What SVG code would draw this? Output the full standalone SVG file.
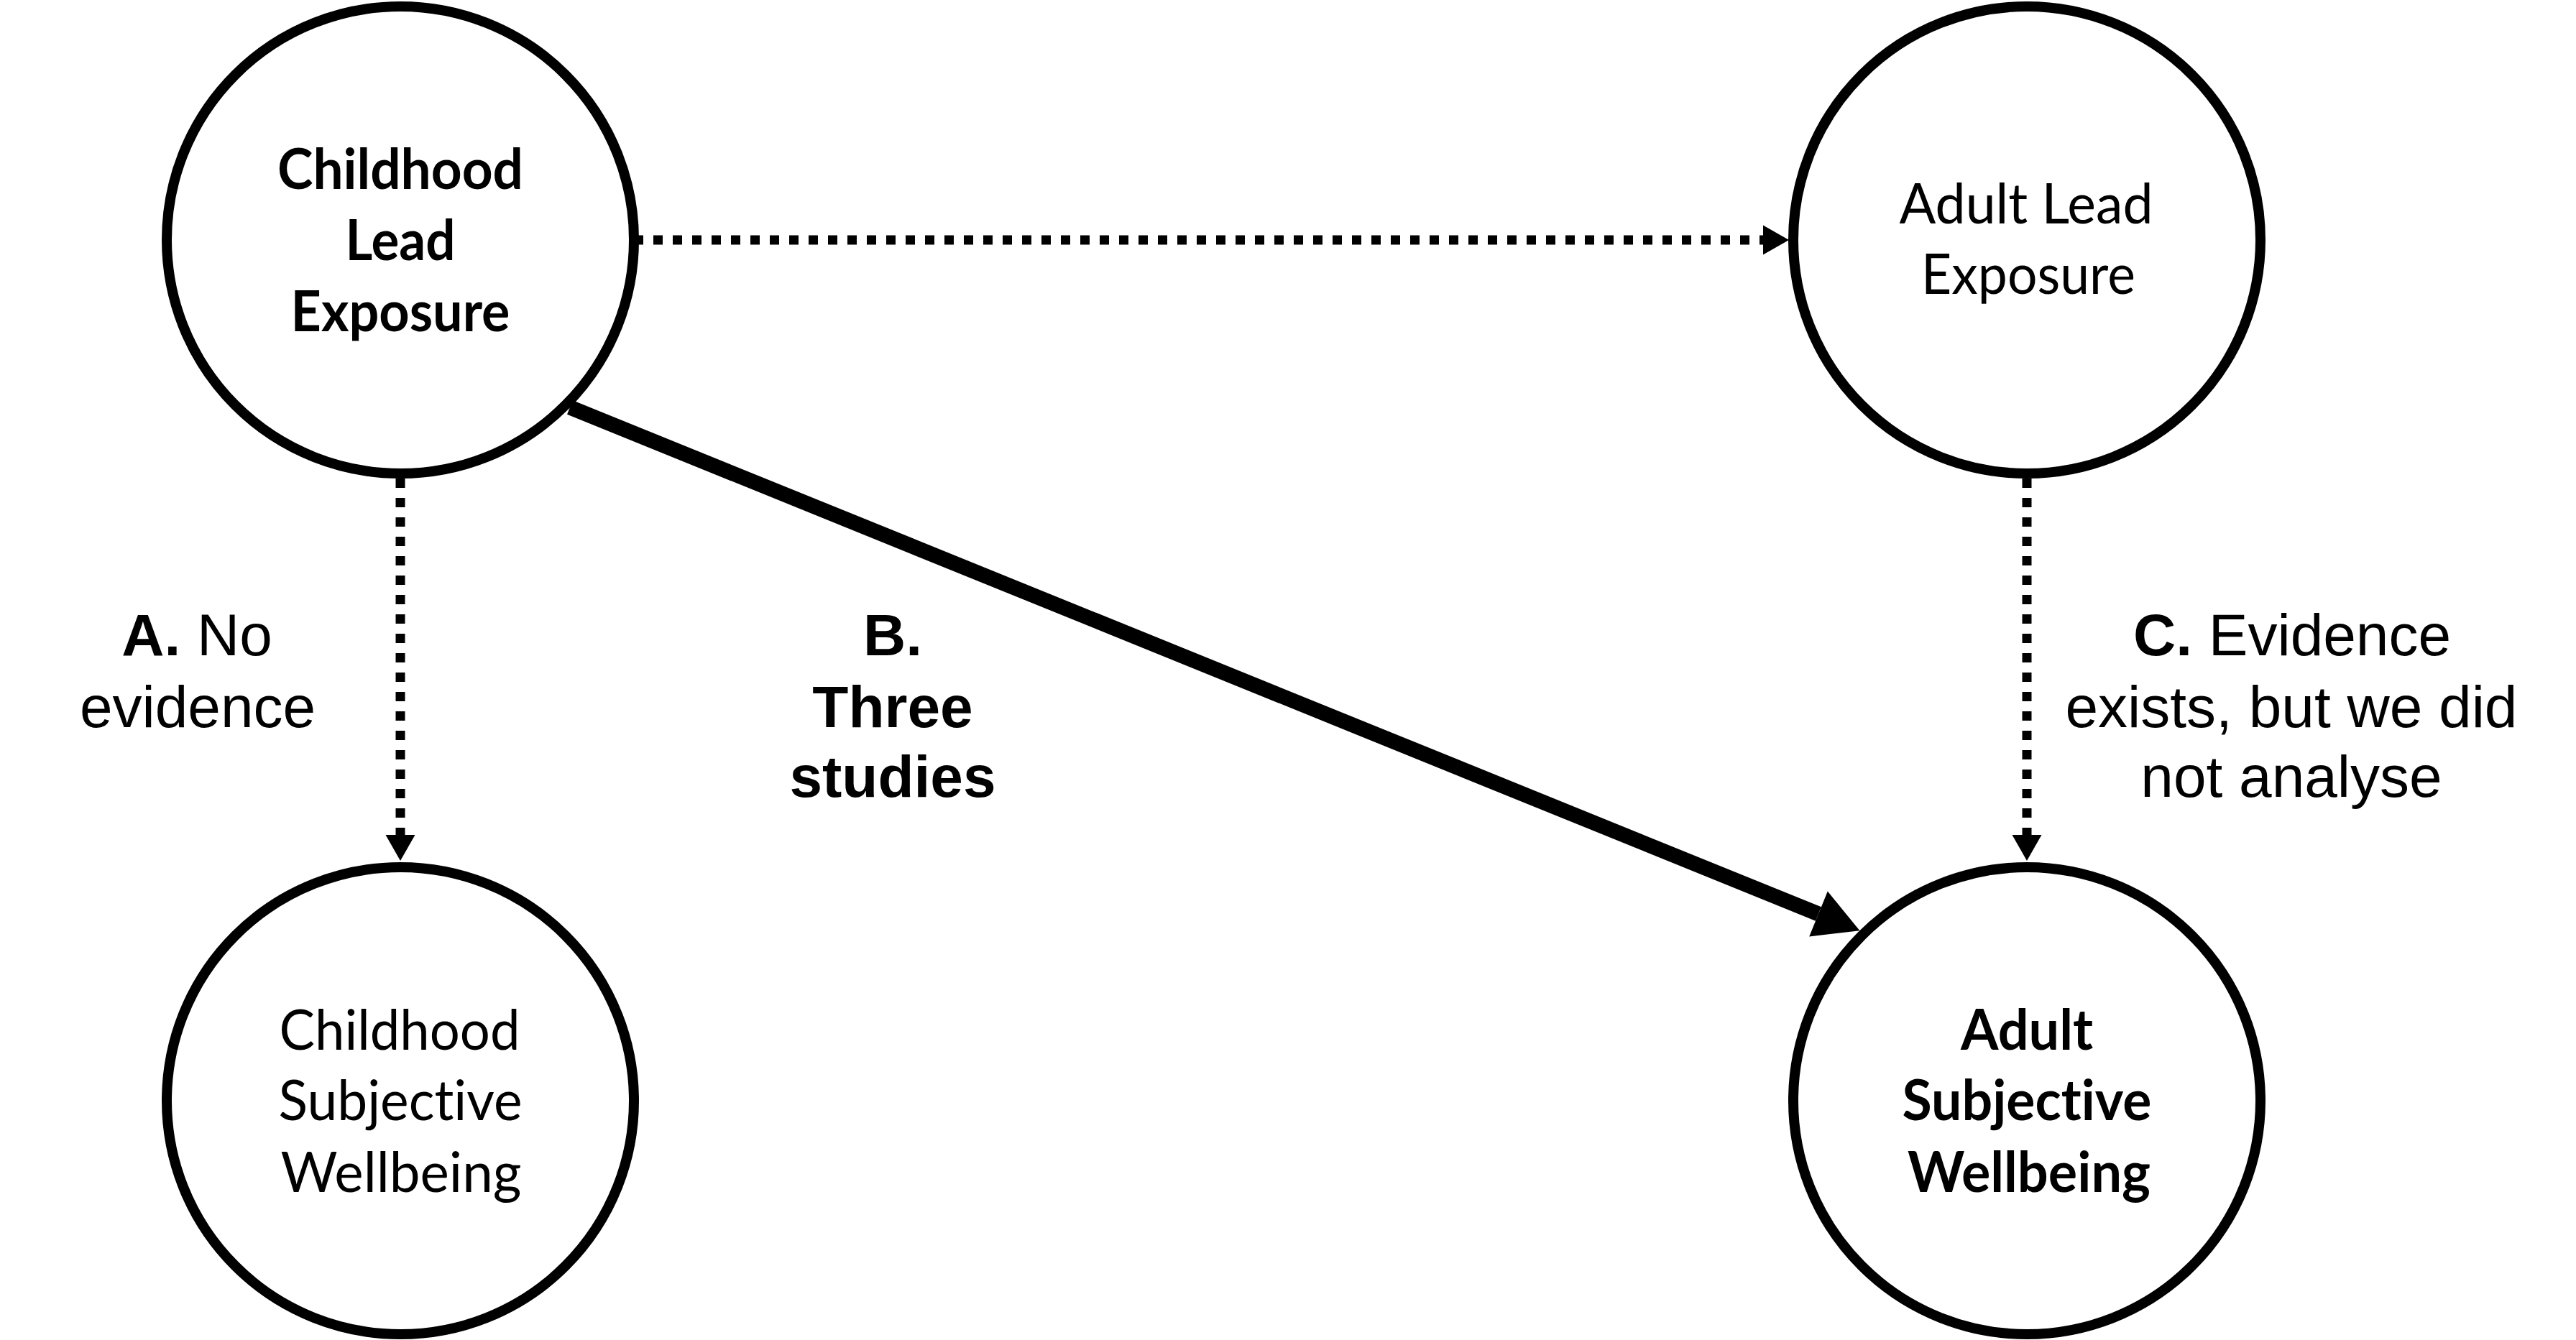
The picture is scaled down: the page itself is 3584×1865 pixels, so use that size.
<svg xmlns="http://www.w3.org/2000/svg" width="3584" height="1865" viewBox="0 0 3584 1865">
<style>
.node{fill:#fff;stroke:#000;stroke-width:14}
.nt{font-family:Lato,"Open Sans","Liberation Sans",sans-serif;font-size:78px;fill:#000;text-anchor:middle;font-variant-ligatures:none;font-feature-settings:"liga" 0,"clig" 0,"dlig" 0}
.b{font-weight:bold}
.lbl{font-family:"Liberation Sans",Arial,sans-serif;font-size:82px;fill:#000;text-anchor:middle}
.dot{fill:none;stroke:#000;stroke-width:13;stroke-dasharray:13 14}
.thick{fill:none;stroke:#000;stroke-width:21}
</style>
<defs>
<marker id="ah" markerUnits="userSpaceOnUse" markerWidth="36" markerHeight="41" refX="0" refY="20.5" orient="auto" overflow="visible">
<path d="M0,0 L36,20.5 L0,41 Z" fill="#000"/>
</marker>
<marker id="ahb" markerUnits="userSpaceOnUse" markerWidth="62" markerHeight="68" refX="0" refY="34" orient="auto" overflow="visible">
<path d="M0,0 L62,34 L0,68 Z" fill="#000"/>
</marker>
</defs>
<rect width="3584" height="1865" fill="#fff"/>
<g id="connectors">
<line class="dot" x1="882" y1="334" x2="2453" y2="334" marker-end="url(#ah)"/>
<line class="dot" x1="557" y1="666" x2="557" y2="1162" marker-end="url(#ah)"/>
<line class="dot" x1="2820" y1="666" x2="2820" y2="1162" marker-end="url(#ah)"/>
<line class="thick" x1="793" y1="567" x2="2530" y2="1272" marker-end="url(#ahb)"/>
</g>
<g id="node-childhood-lead">
<circle class="node" cx="557" cy="334" r="325"/>
<text class="nt b"><tspan x="557" y="263" textLength="342" lengthAdjust="spacingAndGlyphs">Childhood</tspan><tspan x="557" y="362" textLength="153" lengthAdjust="spacingAndGlyphs">Lead</tspan><tspan x="557" y="461" textLength="305" lengthAdjust="spacingAndGlyphs">Exposure</tspan></text>
</g>
<g id="node-adult-lead">
<circle class="node" cx="2820" cy="334" r="325"/>
<text class="nt"><tspan x="2819" y="311" textLength="353" lengthAdjust="spacingAndGlyphs">Adult Lead</tspan><tspan x="2822" y="409" textLength="298" lengthAdjust="spacingAndGlyphs">Exposure</tspan></text>
</g>
<g id="node-childhood-swb">
<circle class="node" cx="557" cy="1532" r="325"/>
<text class="nt"><tspan x="556" y="1461" textLength="335" lengthAdjust="spacingAndGlyphs">Childhood</tspan><tspan x="557" y="1559" textLength="339" lengthAdjust="spacingAndGlyphs">Subjective</tspan><tspan x="558" y="1659" textLength="335" lengthAdjust="spacingAndGlyphs">Wellbeing</tspan></text>
</g>
<g id="node-adult-swb">
<circle class="node" cx="2820" cy="1532" r="325"/>
<text class="nt b"><tspan x="2820" y="1461" textLength="184" lengthAdjust="spacingAndGlyphs">Adult</tspan><tspan x="2820" y="1559" textLength="347" lengthAdjust="spacingAndGlyphs">Subjective</tspan><tspan x="2823" y="1659" textLength="338" lengthAdjust="spacingAndGlyphs">Wellbeing</tspan></text>
</g>
<g id="label-a">
<text class="lbl" x="274" y="912"><tspan font-weight="bold">A.</tspan> No</text>
<text class="lbl" x="275" y="1012">evidence</text>
</g>
<g id="label-b">
<text class="lbl b" x="1242" y="912">B.</text>
<text class="lbl b" x="1242" y="1012">Three</text>
<text class="lbl b" x="1242" y="1109">studies</text>
</g>
<g id="label-c">
<text class="lbl" x="3189" y="912"><tspan font-weight="bold">C.</tspan> Evidence</text>
<text class="lbl" x="3188" y="1012">exists, but we did</text>
<text class="lbl" x="3188" y="1109">not analyse</text>
</g>
</svg>
